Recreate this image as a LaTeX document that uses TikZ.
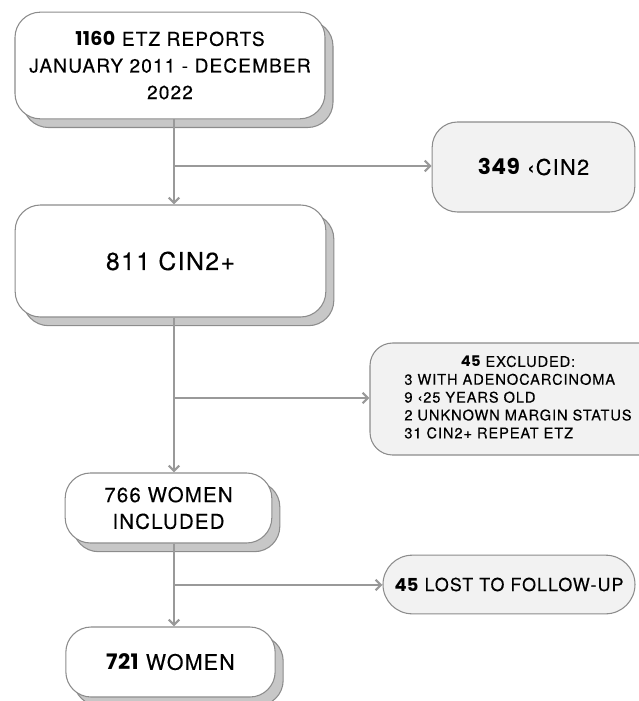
\documentclass[tikz,border=0pt]{standalone}
\usepackage{fontspec}
\setmainfont{TeX Gyre Heros}[LetterSpace=6,FakeBold=0.3]
\newfontfamily\heavyfont{Poppins}[LetterSpace=2]
\usetikzlibrary{shadows}
\usetikzlibrary{arrows.meta}
\usetikzlibrary{calc}
\newcommand{\bignum}[1]{{\heavyfont\bfseries #1}}
\tikzstyle{mainbox}=[rectangle,rounded corners=19pt,draw=black!45,fill=white,line width=0.8pt,align=center,copy shadow={shadow xshift=6pt,shadow yshift=-6.5pt,fill=black!22,draw=black!45}]
\tikzstyle{sidebox}=[rectangle,rounded corners=19pt,draw=black!45,fill=black!5,line width=0.8pt,align=center]
\tikzstyle{link} = [draw=black!40,line width=1.6pt,-{Straight Barb[length=4pt,width=8pt]}]

\begin{document}
\begin{tikzpicture}[x=0.75pt,y=-0.75pt]
  \useasboundingbox (0,0) rectangle (639,701);

  % main column
  \node[mainbox,minimum width=232.5pt,minimum height=80pt,font=\fontsize{14.3}{20}\selectfont] (reports) at (170,65.5) {\bignum{1160} ETZ REPORTS\\JANUARY 2011 - DECEMBER\\2022};
  \node[mainbox,minimum width=233pt,minimum height=84pt,font=\fontsize{18.5}{20}\selectfont] (cin) at (170.5,261) {811 CIN2+};
  \node[mainbox,minimum width=155pt,minimum height=52.5pt,font=\fontsize{15.3}{20}\selectfont] (included) at (168.5,508) {766 WOMEN\\INCLUDED};
  \node[mainbox,minimum width=157pt,minimum height=52.5pt,font=\fontsize{16}{18}\selectfont] (women) at (170.5,662) {\bignum{721} WOMEN};

  % side boxes
  \node[sidebox,minimum width=152pt,minimum height=67.5pt,font=\fontsize{16.3}{18}\selectfont] (below) at (533.5,167) {\bignum{349} ‹CIN2};
  \node[sidebox,rounded corners=17pt,minimum width=222pt,minimum height=84pt,font=\fontsize{11}{13.4}\selectfont] (excluded) at (518,399)
    {\begin{tabular}{@{}l@{}}\multicolumn{1}{@{}c@{}}{\bignum{45} EXCLUDED:}\\3 WITH ADENOCARCINOMA\\9 ‹25 YEARS OLD\\2 UNKNOWN MARGIN STATUS\\31 CIN2+ REPEAT ETZ\end{tabular}};
  \node[sidebox,rounded corners=22pt,minimum width=189pt,minimum height=44pt,font=\fontsize{13.4}{16}\selectfont] (lost) at (509,584.5) {\bignum{45} LOST TO FOLLOW-UP};

  % connectors
  \coordinate (s1) at (174,166);
  \coordinate (s2) at (174,398);
  \coordinate (s3) at (174,585);

  \draw[link] (reports.south -| s1) -- (cin.north -| s1);
  \draw[link] (cin.south -| s2) -- (included.north -| s2);
  \draw[link] (included.south -| s3) -- (women.north -| s3);

  \foreach \source/\dest in {s1/below, s2/excluded, s3/lost}
         \draw[link] (\source) -- (\source -| \dest.west);

\end{tikzpicture}
\end{document}
